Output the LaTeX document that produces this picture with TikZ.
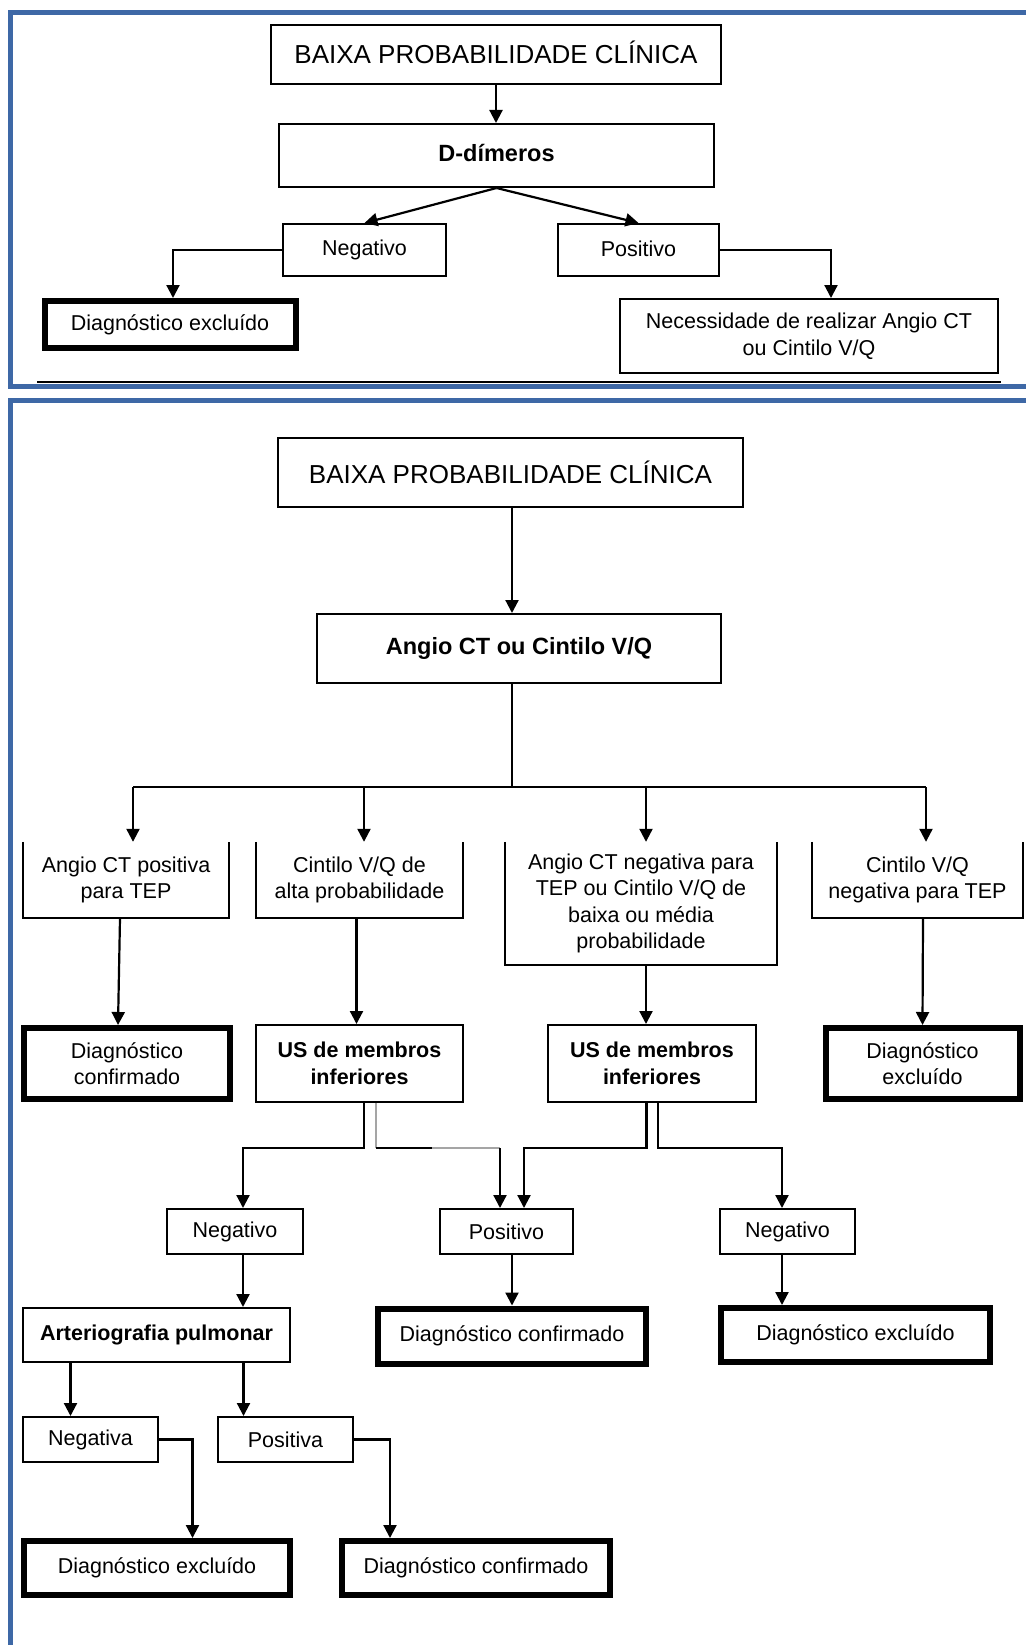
\documentclass[tikz,border=0pt]{standalone}
\usepackage{fontspec}
\setmainfont{Liberation Sans}
\usetikzlibrary{arrows.meta}
\definecolor{panelblue}{RGB}{62,104,166}
\definecolor{greyline}{RGB}{165,165,165}

\tikzset{
  every node/.style={font=\fontsize{21.5}{26.5}\selectfont},
  box/.style={draw, line width=2pt, inner sep=0pt, align=center},
  thickbox/.style={box, line width=6pt},
  openbox/.style={inner sep=0pt, align=center},
  title/.style={font=\fontsize{26}{30}\selectfont},
  headbold/.style={font=\fontsize{23.5}{28}\selectfont\bfseries},
  bold/.style={font=\fontsize{21.5}{26.5}\selectfont\bfseries},
  link/.style={line width=2.2pt},
  arr/.style={line width=2.2pt, -{Triangle[length=13pt,width=13pt]}},
  frame/.style={line width=5pt, draw=panelblue},
}

\begin{document}
\begin{tikzpicture}[x=1pt,y=-1pt]
\useasboundingbox (0,0) rectangle (1026,1645);

% ---------- panel frames ----------
\draw[frame] (1026,13) -- (10,13) -- (10,386) -- (1026,386);
\draw[line width=1.5pt] (37,382) -- (1001,382);
\draw[frame] (1026,400) -- (10,400) -- (10,1645);

% ---------- upper panel ----------
\node[box, title, minimum width=450, minimum height=59] (b1) at (496,54.5) {\raisebox{4pt}{BAIXA PROBABILIDADE CLÍNICA}};
\node[box, headbold, minimum width=435, minimum height=63] (dd) at (496.5,155.5) {\raisebox{5pt}{D-dímeros}};
\node[box, minimum width=163, minimum height=52] (neg1) at (364.5,250) {\raisebox{2pt}{Negativo}};
\node[box, minimum width=161, minimum height=52] (pos1) at (638.5,250) {\raisebox{2pt}{Positivo}};
\node[thickbox, minimum width=251, minimum height=47] (ex1) at (170,324.5) {Diagnóstico excluído};
\node[box, minimum width=378, minimum height=74] (nec) at (809,336) {Necessidade de realizar Angio CT\\ou Cintilo V/Q};

\draw[arr] (b1.south) -- (b1.south |- dd.north);
\draw[arr] (dd.south) -- (neg1.north);
\draw[arr] (dd.south) -- (pos1.north);
\draw[arr] (neg1.west) -| ([xshift=3pt]ex1.north);
\draw[arr] (pos1.east) -| ([xshift=22pt]nec.north);

% ---------- lower panel ----------
\node[box, title, minimum width=465, minimum height=69] (b2) at (510.5,472.5) {BAIXA PROBABILIDADE CLÍNICA};
\node[box, headbold, minimum width=404, minimum height=69] (ang) at (519,648.5) {Angio CT ou Cintilo V/Q};

% first split
\coordinate (hub) at (512,787);
\coordinate (t1) at (133,787);
\coordinate (t2) at (364,787);
\coordinate (t3) at (646,787);
\coordinate (t4) at (926,787);

\node[openbox, minimum width=206, minimum height=76] (ra) at (126,880) {Angio CT positiva\\para TEP};
\node[openbox, minimum width=207, minimum height=76] (rb) at (359.5,880) {Cintilo V/Q de\\alta probabilidade};
\node[openbox, minimum width=272, minimum height=123] (rc) at (641,903.5) {Angio CT negativa para\\TEP ou Cintilo V/Q de\\baixa ou média\\probabilidade};
\node[openbox, minimum width=211, minimum height=76] (rd) at (917.5,880) {Cintilo V/Q\\negativa para TEP};
\foreach \n in {ra,rb,rc,rd}
  \draw[link, line width=2pt] (\n.north west) -- (\n.south west) -- (\n.south east) -- (\n.north east);

\draw[arr] (b2.south -| hub) -- (hub |- ang.north);
\draw[link] (ang.south -| hub) -- (hub);
\draw[link] (t1) -- (t4);
\foreach \t/\n in {t1/ra,t2/rb,t3/rc,t4/rd}
  \draw[arr] (\t) -- (\t |- \n.north);

\node[thickbox, minimum width=206, minimum height=71] (cf1) at (127,1063.5) {Diagnóstico\\confirmado};
\node[box, bold, minimum width=207, minimum height=77] (us1) at (359.5,1063.5) {US de membros\\inferiores};
\node[box, bold, minimum width=208, minimum height=77] (us2) at (652,1063.5) {US de membros\\inferiores};
\node[thickbox, minimum width=194, minimum height=71] (ex2) at (922.5,1063.5) {Diagnóstico\\excluído};

\draw[arr] ([xshift=-6pt]ra.south) -- ([xshift=-9pt]cf1.north);
\draw[arr] ([xshift=-3pt]rb.south) -- ([xshift=-3pt]us1.north);
\draw[arr] (t3 |- rc.south) -- (t3 |- us2.north);
\draw[arr] ([xshift=5.5pt]rd.south) -- (ex2.north);

% second split
\node[box, minimum width=136, minimum height=45] (neg2) at (235,1231.5) {Negativo};
\node[box, minimum width=133, minimum height=45] (pos2) at (506.5,1231.5) {Positivo};
\node[box, minimum width=135, minimum height=45] (neg3) at (787.5,1231.5) {Negativo};

\coordinate (j1) at (364,1148);
\coordinate (j2) at (376,1148);
\coordinate (j2b) at (432,1148);
\coordinate (p2a) at (500,1148);
\coordinate (j3) at (646.5,1148);
\coordinate (j4) at (658,1148);

\draw[arr] (us1.south -| j1) -- (j1) -| ([xshift=8pt]neg2.north);
\draw[link, greyline] (us1.south -| j2) -- (j2);
\draw[link] (j2) -- (j2b);
\draw[link, greyline] (j2b) -- (p2a);
\draw[arr] (p2a) -- (p2a |- pos2.north);
\draw[arr] (us2.south -| j3) -- (j3) -| ([xshift=17.5pt]pos2.north);
\draw[arr] (us2.south -| j4) -- (j4) -| ([xshift=-5.5pt]neg3.north);

\node[box, bold, minimum width=267, minimum height=54] (art) at (156.5,1335) {\raisebox{3pt}{Arteriografia pulmonar}};
\node[thickbox, minimum width=268, minimum height=55] (cf2) at (512,1336) {Diagnóstico confirmado};
\node[thickbox, minimum width=269, minimum height=54] (ex3) at (855.5,1335) {Diagnóstico excluído};

\draw[arr] ([xshift=8pt]neg2.south) -- ([xshift=8pt]neg2.south |- art.north);
\draw[arr] (pos2.south -| cf2.north) -- (cf2.north);
\draw[arr] ([xshift=-5.5pt]neg3.south) -- ([xshift=-5.5pt]neg3.south |- ex3.north);

% arteriography outcomes
\node[box, minimum width=135, minimum height=45] (nga) at (90.5,1439.5) {Negativa};
\node[box, minimum width=135, minimum height=45] (psa) at (285.5,1439.5) {Positiva};
\coordinate (k1) at (70.5,0);
\coordinate (k2) at (243.5,0);
\draw[arr] (art.south -| k1) -- (k1 |- nga.north);
\draw[arr] (art.south -| k2) -- (k2 |- psa.north);

\node[thickbox, minimum width=266, minimum height=54] (ex4) at (157,1568) {Diagnóstico excluído};
\node[thickbox, minimum width=268, minimum height=54] (cf3) at (476,1568) {Diagnóstico confirmado};
\coordinate (k3) at (192.5,0);
\coordinate (k4) at (390,0);
\draw[arr] (nga.east) -| (k3 |- ex4.north);
\draw[arr] (psa.east) -| (k4 |- cf3.north);
\end{tikzpicture}
\end{document}
